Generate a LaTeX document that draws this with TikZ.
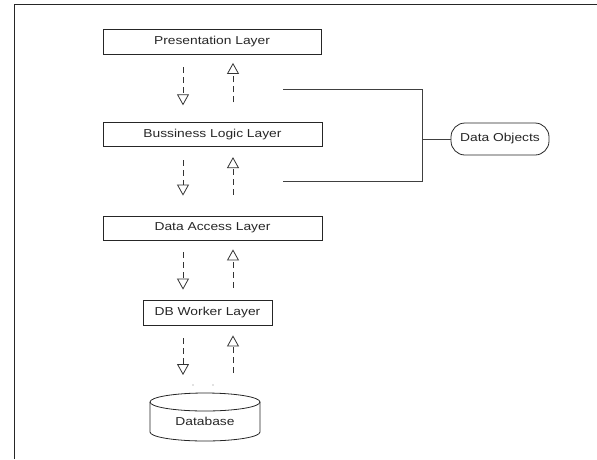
\documentclass[tikz,border=0pt]{standalone}
\usepackage{fontspec}
\setmainfont{Liberation Sans}[FakeStretch=1.2]
\usetikzlibrary{arrows.meta,calc}
\begin{document}
\begin{tikzpicture}[x=1pt,y=-1pt,
  every node/.style={font=\fontsize{11.5}{13}\selectfont, text=black!85},
  layerbox/.style={draw=black!85, line width=0.8pt, inner sep=0pt},
  dn/.style={draw=black!80, line width=0.8pt, dash pattern=on 6pt off 4pt,
     -{Triangle[open, length=11pt, width=12pt, line width=0.8pt, sep=0pt]}},
  conn/.style={draw=black!75, line width=0.8pt},
  frame/.style={draw=black!85, line width=1.3pt}]
\useasboundingbox (0,0) rectangle (597,459);
\draw[frame] (14.5,459) -- (14.5,4.5) -- (597,4.5);

\node[layerbox, minimum width=218pt, minimum height=25pt] (pres) at (212,41.5) {Presentation Layer};
\node[layerbox, minimum width=219pt, minimum height=24pt] (bus) at (212.5,134.7) {Bussiness Logic Layer};
\node[layerbox, minimum width=219pt, minimum height=24pt] (dal) at (212.5,228) {Data Access Layer};
\node[layerbox, minimum width=129pt, minimum height=25pt] (dbw) at (207.5,312.5) {DB Worker Layer};
\node (db) at (205,421) {Database};
\node[draw=black!85, line width=0.8pt, rounded corners=14pt, minimum width=98pt, minimum height=32pt, inner sep=0pt] (dobj) at (500,139) {Data Objects};

% cylinder outline
\draw[black!85, line width=0.8pt] (205,402) ellipse [x radius=55pt, y radius=9pt];
\draw[black!85, line width=0.8pt] (150,402) -- (150,432) arc [start angle=180, end angle=360, x radius=55pt, y radius=9pt] -- (260,402);

\coordinate (xd) at (183,0);
\coordinate (xu) at (233,0);

% arrows presentation <-> business
\draw[dn, shorten <=13pt, shorten >=17pt] (pres.south -| xd) -- (bus.north -| xd);
\draw[dn, shorten <=20pt, shorten >=8.5pt] (bus.north -| xu) -- (pres.south -| xu);
% business <-> data access
\draw[dn, shorten <=13pt, shorten >=20pt] (bus.south -| xd) -- (dal.north -| xd);
\draw[dn, shorten <=21pt, shorten >=10pt] (dal.north -| xu) -- (bus.south -| xu);
% data access <-> db worker
\draw[dn, shorten <=12pt, shorten >=10pt] (dal.south -| xd) -- (dbw.north -| xd);
\draw[dn, shorten <=12pt, shorten >=9pt] (dbw.north -| xu) -- (dal.south -| xu);
% db worker <-> database
\coordinate (dbtop) at (205,393);
\draw[dn, shorten <=13pt, shorten >=18pt] (dbw.south -| xd) -- (dbtop -| xd);
\draw[dn, shorten <=20pt, shorten >=10pt] (dbtop -| xu) -- (dbw.south -| xu);

\fill[black!50] (193,385) circle (0.6pt) (213,385) circle (0.6pt);

% bracket to data objects
\coordinate (bt) at (283,89);
\coordinate (bb) at (283,181);
\coordinate (bm) at (422,139);
\draw[conn] (bt) -- (bt -| bm) -- (bb -| bm) -- (bb);
\draw[conn] (bm) -- (dobj.west);
\end{tikzpicture}
\end{document}
